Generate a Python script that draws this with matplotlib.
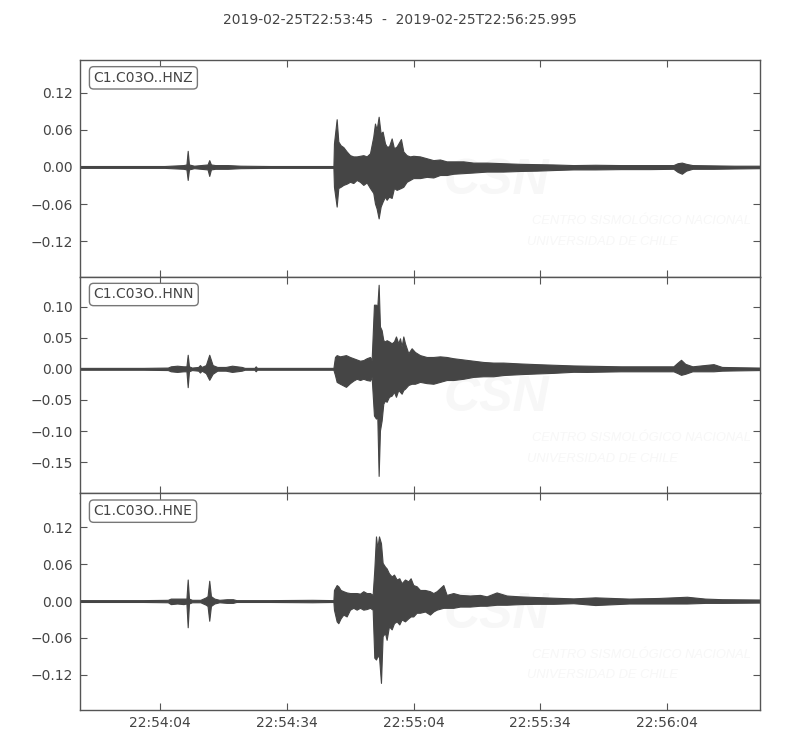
import matplotlib
matplotlib.use("Agg")
import matplotlib.pyplot as plt
import numpy as np

# ---------------- data (seconds after 2019-02-25T22:53:45) ----------------
title_text = "2019-02-25T22:53:45  -  2019-02-25T22:56:25.995"
channels = ["C1.C03O..HNZ", "C1.C03O..HNN", "C1.C03O..HNE"]
xtick_pos = [19, 49, 79, 109, 139]
xtick_labels = ["22:54:04", "22:54:34", "22:55:04", "22:55:34", "22:56:04"]

# envelope of the HNZ trace (time, upper, lower)
t_hnz = [0, 10, 20, 24.5, 25.2, 25.5, 25.8, 27, 30.2, 30.6, 31.0, 32, 35, 38, 45, 55, 60.0,
         60.13, 60.77, 61.16, 61.71, 62.35, 63.13, 63.92, 64.71, 65.50, 66.29,
         67.08, 67.87, 68.66, 69.44, 69.84, 70.23, 70.71, 71.18, 71.65, 72.21,
         72.60, 73.15, 73.79, 74.34, 74.97, 75.99, 76.55, 77.33, 78.13, 78.91,
         80.49, 82.07, 83.65, 85.23, 86.81, 88.38, 90.75, 93.12, 96.28, 100.2,
         104.2, 108.1, 112.1, 116.8,
         122, 128, 135, 140.5, 141.5, 142.5, 143.5, 145, 150, 155, 161]
up_hnz = [0.0015, 0.0015, 0.0015, 0.003, 0.004, 0.026, 0.004, 0.002, 0.004, 0.011, 0.004, 0.003, 0.003, 0.002, 0.0015, 0.0015, 0.0015,
          0.038, 0.077, 0.041, 0.035, 0.032, 0.025, 0.019, 0.017, 0.017, 0.018,
          0.019, 0.017, 0.022, 0.049, 0.070, 0.060, 0.081, 0.054, 0.057, 0.038,
          0.033, 0.033, 0.046, 0.030, 0.033, 0.045, 0.025, 0.019, 0.017, 0.018,
          0.017, 0.014, 0.011, 0.012, 0.009, 0.009, 0.009, 0.007, 0.007, 0.006,
          0.005, 0.0045, 0.004, 0.003,
          0.0035, 0.003, 0.003, 0.003, 0.006, 0.007, 0.005, 0.003, 0.0025, 0.002, 0.002]
lo_hnz = [-0.0015, -0.0015, -0.0015, -0.003, -0.004, -0.021, -0.004, -0.002, -0.004, -0.0145, -0.004, -0.003, -0.003, -0.002, -0.0015, -0.0015, -0.0015,
          -0.032, -0.064, -0.034, -0.032, -0.029, -0.027, -0.024, -0.026, -0.021, -0.024,
          -0.029, -0.025, -0.034, -0.042, -0.059, -0.067, -0.083, -0.064, -0.056, -0.048,
          -0.053, -0.048, -0.050, -0.034, -0.037, -0.034, -0.032, -0.024, -0.021, -0.018,
          -0.018, -0.016, -0.017, -0.013, -0.013, -0.011, -0.010, -0.009, -0.0075, -0.0075,
          -0.0065, -0.006, -0.005, -0.004,
          -0.004, -0.0035, -0.0035, -0.003, -0.008, -0.011, -0.006, -0.003, -0.003, -0.0025, -0.002]

# envelope of the HNN trace
t_hnn = [0, 15, 20.8, 21.5, 23, 24.5, 25.2, 25.5, 25.8, 26.5,
         28.0, 28.4, 28.8, 29.8, 30.6, 31.4, 32.5, 34.5, 36, 38.3,
         39, 41.3, 41.6, 41.9, 45, 60.0,
         60.37, 60.77, 61.55, 62.97, 63.92, 64.71, 65.50, 66.29, 67.08, 67.87,
         68.66, 69.05, 69.60, 70.08, 70.39, 70.71, 71.02, 71.42, 71.81, 72.21,
         72.60, 73.15, 73.79, 74.34, 74.81, 75.36, 75.76, 76.15, 76.55, 76.94,
         77.73, 78.52, 79.31, 80.49, 82.07, 83.65, 85.23, 86.81, 88.38, 90.75,
         93.12, 95.49, 97.85, 100.2, 104.2, 108.1, 112.1, 116.8,
         120, 128, 135, 140.5, 141.5, 142.3, 143.3, 145, 150, 152, 156, 161]
up_hnn = [0.0015, 0.0015, 0.002, 0.004, 0.005, 0.004, 0.004, 0.0226, 0.004, 0.002,
          0.003, 0.006, 0.003, 0.006, 0.0226, 0.006, 0.003, 0.003, 0.005, 0.003,
          0.0015, 0.0015, 0.004, 0.0015, 0.0015, 0.0015,
          0.019, 0.022, 0.020, 0.022, 0.019, 0.017, 0.015, 0.013, 0.014, 0.017,
          0.019, 0.014, 0.103, 0.103, 0.100, 0.135, 0.068, 0.062, 0.046, 0.044,
          0.046, 0.044, 0.041, 0.044, 0.052, 0.041, 0.049, 0.036, 0.052, 0.041,
          0.025, 0.033, 0.027, 0.022, 0.019, 0.019, 0.020, 0.019, 0.017, 0.015,
          0.013, 0.011, 0.010, 0.010, 0.0086, 0.0075, 0.0065, 0.0054,
          0.005, 0.004, 0.004, 0.004, 0.010, 0.0145, 0.008, 0.004, 0.0075, 0.003, 0.0025, 0.002]
lo_hnn = [-0.0015, -0.0015, -0.002, -0.004, -0.005, -0.004, -0.004, -0.0295, -0.004, -0.002,
          -0.003, -0.006, -0.003, -0.007, -0.0177, -0.008, -0.003, -0.003, -0.005, -0.003,
          -0.0015, -0.0015, -0.004, -0.0015, -0.0015, -0.0015,
          -0.010, -0.021, -0.024, -0.029, -0.023, -0.019, -0.016, -0.018, -0.016, -0.018,
          -0.019, -0.013, -0.075, -0.080, -0.077, -0.172, -0.099, -0.083, -0.056, -0.051,
          -0.053, -0.045, -0.043, -0.037, -0.045, -0.034, -0.037, -0.040, -0.034, -0.032,
          -0.026, -0.024, -0.024, -0.021, -0.023, -0.024, -0.021, -0.018, -0.018, -0.016,
          -0.013, -0.012, -0.012, -0.010, -0.0086, -0.0075, -0.0065, -0.0048,
          -0.005, -0.004, -0.004, -0.004, -0.007, -0.0097, -0.008, -0.004, -0.004, -0.003, -0.0025, -0.002]

# envelope of the HNE trace
t_hne = [0, 15, 20.8, 21.5, 23, 24.5, 25.2, 25.5, 25.8, 26.5,
         28.5, 29.8, 30.2, 30.6, 31.0, 31.8, 33, 34.8, 36.2, 37,
         45, 55, 60.0,
         60.13, 60.77, 61.16, 61.71, 62.35, 63.13, 63.92, 64.71, 65.50, 66.29,
         67.08, 67.87, 68.66, 69.29, 69.68, 70.08, 70.39, 70.79, 71.26, 71.65,
         72.21, 72.60, 73.15, 73.79, 74.34, 74.97, 75.60, 76.15, 76.94, 77.73,
         78.28, 78.91, 79.70, 80.49, 81.68, 82.86, 83.65, 84.44, 86.02, 86.81,
         88.38, 89.96, 92.33, 94.70, 96.28, 98.64, 101.0, 104.2, 108.1, 112.1,
         116.8,
         122, 130, 137, 143.7, 148, 152, 161]
up_hne = [0.0015, 0.0015, 0.002, 0.004, 0.004, 0.004, 0.004, 0.035, 0.004, 0.002,
          0.002, 0.006, 0.008, 0.033, 0.008, 0.004, 0.002, 0.003, 0.003, 0.0015,
          0.0015, 0.002, 0.0015,
          0.018, 0.026, 0.024, 0.018, 0.016, 0.014, 0.013, 0.013, 0.013, 0.012,
          0.016, 0.013, 0.013, 0.010, 0.051, 0.105, 0.086, 0.105, 0.094, 0.062,
          0.056, 0.053, 0.045, 0.040, 0.043, 0.035, 0.037, 0.029, 0.035, 0.032,
          0.037, 0.026, 0.024, 0.018, 0.018, 0.016, 0.013, 0.016, 0.026, 0.010,
          0.013, 0.010, 0.009, 0.010, 0.0076, 0.014, 0.009, 0.0076, 0.0065, 0.0054,
          0.0043,
          0.006, 0.004, 0.005, 0.007, 0.004, 0.003, 0.0025]
lo_hne = [-0.0015, -0.0015, -0.002, -0.005, -0.004, -0.005, -0.004, -0.0426, -0.004, -0.002,
          -0.002, -0.006, -0.008, -0.032, -0.008, -0.004, -0.002, -0.003, -0.003, -0.0015,
          -0.0015, -0.002, -0.0015,
          -0.014, -0.033, -0.036, -0.028, -0.022, -0.025, -0.014, -0.011, -0.014, -0.011,
          -0.014, -0.013, -0.011, -0.014, -0.092, -0.095, -0.090, -0.090, -0.133, -0.057,
          -0.052, -0.063, -0.041, -0.046, -0.036, -0.033, -0.038, -0.030, -0.033, -0.028,
          -0.025, -0.025, -0.019, -0.019, -0.017, -0.022, -0.017, -0.014, -0.011, -0.011,
          -0.011, -0.009, -0.009, -0.0076, -0.0076, -0.006, -0.006, -0.005, -0.0045, -0.0045,
          -0.0035,
          -0.0065, -0.004, -0.004, -0.004, -0.003, -0.003, -0.0025]

ylims = [(-0.177, 0.1725), (-0.200, 0.148), (-0.177, 0.175)]
yticks = [[-0.12, -0.06, 0.0, 0.06, 0.12],
          [-0.15, -0.10, -0.05, 0.0, 0.05, 0.10],
          [-0.12, -0.06, 0.0, 0.06, 0.12]]

# ---------------- plotting ----------------
plt.rcParams['font.family'] = ['DejaVu Sans']
wave_c = '#454545'
text_c = '#444444'
spine_c = '#555555'
wm_c = '#f7f7f7'

fig = plt.figure(figsize=(8, 7.5), dpi=100)
fig.text(0.5, 1 - 20 / 750, title_text, ha='center', va='center', fontsize=10, color=text_c)

left, right = 80 / 800, 760 / 800
top, bottom = 1 - 60 / 750, 1 - 710 / 750
h = (top - bottom) / 3
envs = [(t_hnz, up_hnz, lo_hnz), (t_hnn, up_hnn, lo_hnn), (t_hne, up_hne, lo_hne)]
axes = []
for i, (name, (t, up, lo)) in enumerate(zip(channels, envs)):
    ax = fig.add_axes([left, top - (i + 1) * h, right - left, h])
    axes.append(ax)
    # faint watermark
    ax.text(0.613, 0.44, "CSN", transform=ax.transAxes, fontsize=36, fontweight='bold',
            style='italic', color=wm_c, ha='center', va='center', zorder=0,
            family='Liberation Sans', clip_on=True)
    ax.text(0.665, 0.255, "CENTRO SISMOLÓGICO NACIONAL", transform=ax.transAxes, fontsize=9.3,
            style='italic', color=wm_c, ha='left', va='center', zorder=0,
            family='Liberation Sans', clip_on=True)
    ax.text(0.658, 0.16, "UNIVERSIDAD DE CHILE", transform=ax.transAxes, fontsize=9.3,
            style='italic', color=wm_c, ha='left', va='center', zorder=0,
            family='Liberation Sans', clip_on=True)
    ax.fill_between(t, lo, up, color=wave_c, edgecolor=wave_c, linewidth=0.8, zorder=2)
    ax.set_xlim(0, 161)
    ax.set_ylim(*ylims[i])
    ax.set_yticks(yticks[i])
    ax.set_xticks(xtick_pos)
    if i == 2:
        ax.set_xticklabels(xtick_labels)
    else:
        ax.set_xticklabels([])
    ax.tick_params(direction='in', top=True, right=True, length=5, width=0.8,
                   colors=spine_c, labelcolor=text_c, labelsize=10)
    ax.tick_params(axis='y', pad=5)
    ax.tick_params(axis='x', pad=4)
    for s in ax.spines.values():
        s.set_color(spine_c)
        s.set_linewidth(1.0)
    ax.text(0.02, 0.95, name, transform=ax.transAxes, fontsize=10, color=text_c,
            ha='left', va='top', zorder=5,
            bbox=dict(boxstyle='round,pad=0.3', fc='white', ec='#777777', lw=1.0))

fig.savefig('out.png', dpi=100)
